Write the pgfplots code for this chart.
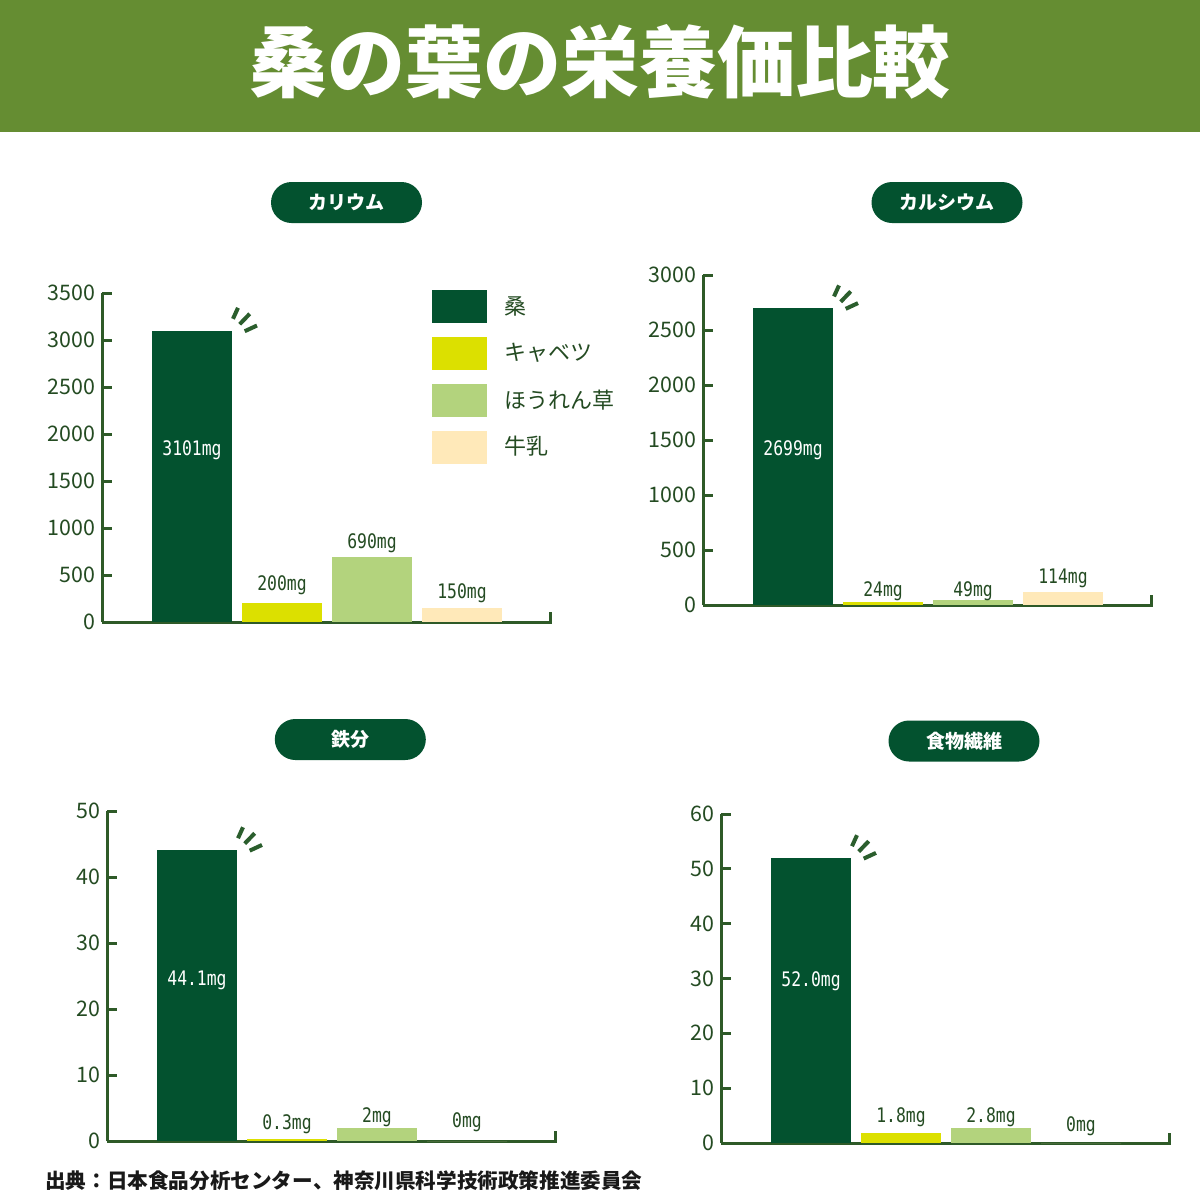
\documentclass[border=0pt]{standalone}
\usepackage{fontspec}
\setmainfont{Noto Sans CJK JP}
\newfontfamily\monof[FakeStretch=0.82]{DejaVu Sans Mono}
\usepackage{pgfplots}
\pgfplotsset{compat=1.18}
\definecolor{banner}{HTML}{658D32}
\definecolor{cA}{HTML}{03522F}
\definecolor{cB}{HTML}{DCE000}
\definecolor{cC}{HTML}{B3D37D}
\definecolor{cD}{HTML}{FFE9B9}
\definecolor{axcol}{HTML}{2E5A28}
\definecolor{txtcol}{HTML}{244B22}
\definecolor{spkcol}{HTML}{2B5E2D}

\tikzset{
  vlab/.style={font=\monof\fontsize{10}{10}\selectfont, text=txtcol, inner sep=0pt},
  spk/.style={draw=spkcol, line width=2pt, line cap=butt},
}
\pgfplotsset{
  mybase/.style={
    scale only axis, width=225pt,
    xmin=-1, xmax=4, ymin=0,
    axis lines=left,
    axis line style={-, line width=1.5pt, draw=axcol},
    xtick=\empty,
    tick align=inside,
    major tick length=5pt,
    ytick style={line width=1.5pt, draw=axcol},
    yticklabel style={font=\fontsize{10.7}{10.7}\selectfont, text=txtcol},
    /pgf/number format/assume math mode=true,
    /pgf/number format/set thousands separator={},
    clip=false,
    anchor=south west,
  },
  mybar/.style={ybar, bar width=40pt, bar shift=0pt, draw=none, fill=#1},
  vl/.style 2 args={nodes near coords={#1},
    every node near coord/.append style={vlab, anchor=center, yshift=#2}},
}
\newcommand{\spark}[1]{%
  \draw[spk] ([shift={(20.5pt,5.85pt)}]axis cs:0,#1) -- ++(2.5pt,5.5pt);
  \draw[spk] ([shift={(23.85pt,3.15pt)}]axis cs:0,#1) -- ++(5pt,5.2pt);
  \draw[spk] ([shift={(26.35pt,-0.35pt)}]axis cs:0,#1) -- ++(6.15pt,2.85pt);
}
\newcommand{\xendtick}{%
  \draw[axcol, line width=1.5pt] ([xshift=-0.75pt]rel axis cs:1,0) -- ([xshift=-0.75pt,yshift=5pt]rel axis cs:1,0);
}

\begin{document}
\begin{tikzpicture}
\path[use as bounding box, fill=white] (0,0) rectangle (600pt,-600pt);
\begin{scope}[x=0.5pt, y=-0.5pt]
  \fill[banner] (0,0) rectangle (1200,132);
  \node[text=white, font=\bfseries\fontsize{39}{39}\selectfont] at (600,62) {桑の葉の栄養価比較};
  \tikzset{pill/.style={fill=cA, text=white, minimum width=75.5pt, minimum height=20.5pt, rounded corners=10.25pt, inner sep=0pt, font=\bfseries\fontsize{9.5}{9.5}\selectfont}}
  \node[pill] at (346.5,202.5) {カリウム};
  \node[pill] at (947,202.5) {カルシウム};
  \node[pill] at (350.3,739.5) {鉄分};
  \node[pill] at (964,741) {食物繊維};
  \node[anchor=west, inner sep=0pt, text=black!90, font=\bfseries\fontsize{10.3}{10.3}\selectfont] at (45,1181) {出典：日本食品分析センター、神奈川県科学技術政策推進委員会};
\end{scope}

% Potassium
\begin{axis}[mybase, at={(51pt,-311pt)}, height=164.5pt, ymax=3500,
  ytick={0,500,...,3500},
  legend style={at={(0.7333,1.009)}, anchor=north west, draw=none, fill=none,
    inner sep=0pt, row sep=7pt, column sep=8.5pt,
    font=\fontsize{11}{11}\selectfont, text=txtcol, cells={anchor=west}, nodes={inner sep=0pt}},
  legend cell align=left]
\addlegendimage{legend image code/.code={\fill[cA] (0pt,-8pt) rectangle (27pt,8pt);}}
\addlegendentry{桑}
\addlegendimage{legend image code/.code={\fill[cB] (0pt,-8pt) rectangle (27pt,8pt);}}
\addlegendentry{キャベツ}
\addlegendimage{legend image code/.code={\fill[cC] (0pt,-8pt) rectangle (27pt,8pt);}}
\addlegendentry{ほうれん草}
\addlegendimage{legend image code/.code={\fill[cD] (0pt,-8pt) rectangle (27pt,8pt);}}
\addlegendentry{牛乳}
\addplot[mybar=cA, forget plot] coordinates {(0,3101)};
\addplot[mybar=cB, forget plot, vl={200mg}{9pt}] coordinates {(1,200)};
\addplot[mybar=cC, forget plot, vl={690mg}{7pt}] coordinates {(2,690)};
\addplot[mybar=cD, forget plot, vl={150mg}{7.5pt}] coordinates {(3,150)};
\node[vlab, text=white] at (axis cs:0,1830) {3101mg};
\spark{3101}
\xendtick
\end{axis}

% Calcium
\begin{axis}[mybase, at={(351.5pt,-302.5pt)}, height=165pt, ymax=3000,
  ytick={0,500,...,3000}]
\addplot[mybar=cA] coordinates {(0,2699)};
\addplot[mybar=cB, vl={24mg}{5.7pt}] coordinates {(1,24)};
\addplot[mybar=cC, vl={49mg}{4.3pt}] coordinates {(2,49)};
\addplot[mybar=cD, vl={114mg}{7.2pt}] coordinates {(3,114)};
\node[vlab, text=white] at (axis cs:0,1409) {2699mg};
\spark{2699}
\xendtick
\end{axis}

% Iron
\begin{axis}[mybase, at={(53.5pt,-570.5pt)}, height=165pt, ymax=50,
  ytick={0,10,...,50}]
\addplot[mybar=cA] coordinates {(0,44.1)};
\addplot[mybar=cB, vl={0.3mg}{7.5pt}] coordinates {(1,0.3)};
\addplot[mybar=cC, vl={2mg}{5.5pt}] coordinates {(2,2)};
\addplot[mybar=cD, vl={0mg}{9.5pt}] coordinates {(3,0)};
\node[vlab, text=white] at (axis cs:0,24.4) {44.1mg};
\spark{44.1}
\xendtick
\end{axis}

% Dietary fibre
\begin{axis}[mybase, at={(360.5pt,-571.5pt)}, height=164.5pt, ymax=60,
  ytick={0,10,...,60}]
\addplot[mybar=cA] coordinates {(0,52.0)};
\addplot[mybar=cB, vl={1.8mg}{8pt}] coordinates {(1,1.8)};
\addplot[mybar=cC, vl={2.8mg}{5.3pt}] coordinates {(2,2.8)};
\addplot[mybar=cD, vl={0mg}{8.5pt}] coordinates {(3,0)};
\node[vlab, text=white] at (axis cs:0,29.5) {52.0mg};
\spark{52.0}
\xendtick
\end{axis}
\end{tikzpicture}
\end{document}
